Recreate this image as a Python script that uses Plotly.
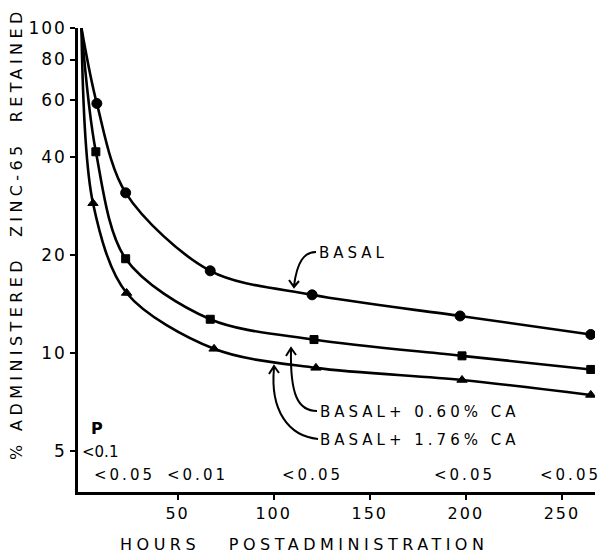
import plotly.graph_objects as go

# ---- data ----
hours_basal = [0, 8, 23, 67, 120, 197, 265]
basal = [100, 58.6, 31.1, 17.9, 15.1, 13.0, 11.4]

hours_ca060 = [0, 7.5, 23, 67, 121, 198, 265]
ca060 = [100, 41.6, 19.5, 12.7, 11.0, 9.8, 8.9]

hours_ca176 = [0, 6, 23.5, 69, 122, 198, 265]
ca176 = [100, 28.9, 15.3, 10.3, 9.0, 8.26, 7.43]

y_ticks = [5, 10, 20, 40, 60, 80, 100]
x_ticks = [50, 100, 150, 200, 250]

p_first = "<0.1"
p_values = ["<0.05", "<0.01", "<0.05", "<0.05", "<0.05"]

# ---- layout constants ----
W, H = 612, 556
L, R, T, B = 78, 17, 28, 64
PW, PH = W - L - R, H - T - B
FONT = "DejaVu Sans"


def px(xp):
    return (xp - L) / PW


def py(yp):
    return (H - B - yp) / PH


def spaced(text, ls):
    return f'<span style="letter-spacing:{ls}px">{text}</span>'


fig = go.Figure()

series = [
    (hours_basal, basal, "circle", 10, "BASAL"),
    (hours_ca060, ca060, "square", 8, "BASAL+0.60% CA"),
    (hours_ca176, ca176, "triangle-up", 9, "BASAL+1.76% CA"),
]
for xs, ys, sym, ms, name in series:
    fig.add_trace(go.Scatter(
        x=xs, y=ys, mode="lines+markers", name=name,
        line=dict(color="black", width=2.6, shape="spline", smoothing=0.9),
        marker=dict(symbol=sym, size=[0] + [ms] * (len(xs) - 1), color="black",
                    opacity=1, line=dict(color="black", width=1)),
        showlegend=False,
    ))

annotations = []
# curve labels
annotations.append(dict(x=px(317), y=py(253), xref="paper", yref="paper",
                        text=spaced("BASAL", 4), showarrow=False,
                        xanchor="left", yanchor="middle",
                        font=dict(family=FONT, size=15, color="black")))
annotations.append(dict(x=px(318), y=py(412), xref="paper", yref="paper",
                        text=spaced("BASAL+ 0.60% CA", 4), showarrow=False,
                        xanchor="left", yanchor="middle",
                        font=dict(family=FONT, size=15, color="black")))
annotations.append(dict(x=px(318), y=py(440), xref="paper", yref="paper",
                        text=spaced("BASAL+ 1.76% CA", 4), showarrow=False,
                        xanchor="left", yanchor="middle",
                        font=dict(family=FONT, size=15, color="black")))

# P values
annotations.append(dict(x=px(89), y=py(428), xref="paper", yref="paper",
                        text="<b>P</b>", showarrow=False, xanchor="left", yanchor="middle",
                        font=dict(family=FONT, size=16, color="black")))
annotations.append(dict(x=px(80), y=py(452), xref="paper", yref="paper",
                        text=p_first.replace("<", "&lt;"), showarrow=False,
                        xanchor="left", yanchor="middle",
                        font=dict(family=FONT, size=15, color="black")))
p_centers = [124, 197, 312, 464, 570]
for xc, t in zip(p_centers, p_values):
    annotations.append(dict(x=px(xc), y=py(475), xref="paper", yref="paper",
                            text=spaced(t.replace("<", "&lt;"), 3), showarrow=False,
                            xanchor="center", yanchor="middle",
                            font=dict(family=FONT, size=15, color="black")))

# axis titles
annotations.append(dict(x=px(118), y=py(544), xref="paper", yref="paper",
                        text=spaced("HOURS\u00a0\u00a0\u00a0POSTADMINISTRATION", 4.5),
                        showarrow=False, xanchor="left", yanchor="middle",
                        font=dict(family=FONT, size=16, color="black")))
annotations.append(dict(x=px(16), y=py(234), xref="paper", yref="paper",
                        text=spaced("%\u00a0ADMINISTERED\u00a0\u00a0ZINC-65\u00a0\u00a0RETAINED", 4.4),
                        showarrow=False, textangle=-90, xanchor="center", yanchor="middle",
                        font=dict(family=FONT, size=16, color="black")))


def path(points_cmd):
    out = []
    for tok in points_cmd:
        if isinstance(tok, str):
            out.append(tok)
        else:
            out.append(f"{px(tok[0]):.5f},{py(tok[1]):.5f}")
    return " ".join(out)


shapes = []
arrow_paths = [
    # BASAL
    ["M", (316, 252), "C", (304, 252), (297, 262), (294, 286),
     "M", (289, 280), "L", (294, 287), "L", (299, 281)],
    # BASAL + 0.60 % CA
    ["M", (317, 411), "C", (298, 411), (290, 395), (291, 349),
     "M", (286, 356), "L", (291, 348), "L", (296, 355)],
    # BASAL + 1.76 % CA
    ["M", (318, 439), "C", (288, 436), (270, 410), (274, 368),
     "M", (269, 374), "L", (274, 366), "L", (279, 373)],
]
for p in arrow_paths:
    shapes.append(dict(type="path", xref="paper", yref="paper", path=path(p),
                       line=dict(color="black", width=2)))

fig.update_layout(
    width=W, height=H,
    margin=dict(l=L, r=R, t=T, b=B),
    paper_bgcolor="white", plot_bgcolor="white",
    font=dict(family=FONT, color="black"),
    annotations=annotations, shapes=shapes,
    xaxis=dict(range=[-1.8, 267.2], tickvals=x_ticks,
               ticktext=[spaced(str(v), 2) for v in x_ticks],
               ticks="outside", ticklen=5, tickwidth=2, tickcolor="black",
               showline=True, linecolor="black", linewidth=2.5,
               showgrid=False, zeroline=False,
               tickfont=dict(family=FONT, size=16, color="black")),
    yaxis=dict(type="log", range=[0.5723, 2.0], tickvals=y_ticks,
               ticktext=[spaced(str(v), 2) for v in y_ticks],
               ticks="outside", ticklen=5, tickwidth=2, tickcolor="black",
               showline=True, linecolor="black", linewidth=2.5,
               showgrid=False, zeroline=False,
               tickfont=dict(family=FONT, size=17, color="black")),
)

fig.write_html("out.html")
